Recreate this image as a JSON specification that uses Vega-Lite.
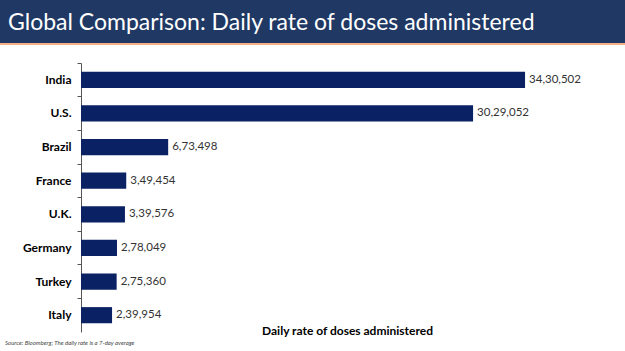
{
  "$schema": "https://vega.github.io/schema/vega-lite/v6.json",
  "padding": 0,
  "spacing": 17,
  "config": {
    "view": {"stroke": null},
    "font": "Lato",
    "locale": {"number": {"decimal": ".", "thousands": ",", "grouping": [3, 2], "currency": ["₹", ""]}}
  },
  "vconcat": [
    {
      "spacing": 0,
      "vconcat": [
        {
          "width": 625,
          "height": 43,
          "view": {"fill": "#1F3864", "stroke": null},
          "data": {"values": [{"t": "Global Comparison: Daily rate of doses administered"}]},
          "mark": {"type": "text", "align": "left", "baseline": "middle", "dx": 8, "dy": 1, "color": "white", "fontSize": 23, "font": "Lato"},
          "encoding": {
            "x": {"datum": 0, "type": "quantitative", "scale": {"domain": [0, 1]}, "axis": null},
            "text": {"field": "t"}
          }
        },
        {
          "width": 625,
          "height": 2,
          "view": {"fill": "#F4B183", "stroke": null},
          "data": {"values": [{}]},
          "mark": {"type": "rect", "color": "#F4B183"},
          "encoding": {}
        }
      ]
    },
    {
      "spacing": 0,
      "bounds": "flush",
      "hconcat": [
        {
          "width": 81,
          "height": 269,
          "data": {"values": [{}]},
          "mark": {"type": "rect", "opacity": 0},
          "encoding": {}
        },
        {
          "width": 532,
          "height": 269,
          "data": {
            "values": [
              {"country": "India", "doses": 3430502},
              {"country": "U.S.", "doses": 3029052},
              {"country": "Brazil", "doses": 673498},
              {"country": "France", "doses": 349454},
              {"country": "U.K.", "doses": 339576},
              {"country": "Germany", "doses": 278049},
              {"country": "Turkey", "doses": 275360},
              {"country": "Italy", "doses": 239954}
            ]
          },
          "title": {"text": "Source: Bloomberg; The daily rate is a 7-day average", "orient": "bottom", "anchor": "start", "frame": "group", "dx": -76, "offset": 4, "fontSize": 6, "fontStyle": "italic", "fontWeight": "normal", "color": "#444"},
          "encoding": {
            "y": {
              "field": "country", "type": "nominal", "sort": null,
              "scale": {"paddingInner": 0.52, "paddingOuter": 0.26},
              "axis": {"title": null, "labelFontWeight": "bold", "labelFontSize": 12, "labelColor": "#000", "labelPadding": 6, "tickSize": 4, "bandPosition": -0.53, "domainColor": "#555", "tickColor": "#555"}
            },
            "x": {
              "field": "doses", "type": "quantitative",
              "scale": {"domain": [0, 4110000]},
              "axis": {"title": "Daily rate of doses administered", "labels": false, "ticks": false, "domain": false, "grid": false, "titleFontSize": 12, "titleFontWeight": "bold", "titleColor": "#000", "titleY": -2, "titleBaseline": "middle"}
            }
          },
          "layer": [
            {"mark": {"type": "bar", "color": "#0A2263"}},
            {"mark": {"type": "text", "align": "left", "baseline": "middle", "dx": 4, "fontSize": 11.5, "color": "#333"}, "encoding": {"text": {"field": "doses", "type": "quantitative", "format": ",d"}}}
          ]
        }
      ]
    }
  ]
}
